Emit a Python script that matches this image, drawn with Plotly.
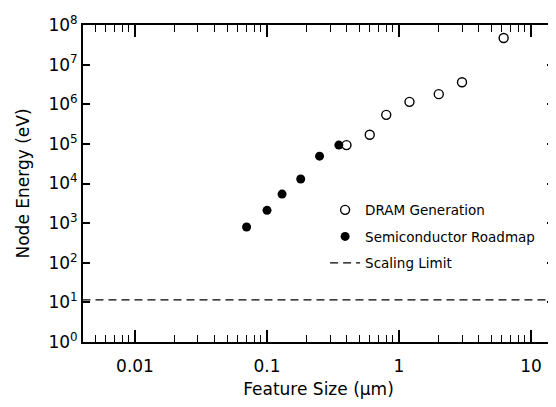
import plotly.graph_objects as go

# Data
dram_x = [0.4, 0.6, 0.8, 1.2, 2.0, 3.0, 6.2]
dram_y = [9.3e4, 1.7e5, 5.4e5, 1.15e6, 1.8e6, 3.6e6, 4.7e7]
road_x = [0.07, 0.10, 0.13, 0.18, 0.25, 0.35]
road_y = [8.0e2, 2.1e3, 5.4e3, 1.3e4, 4.9e4, 9.3e4]
limit_x = [0.004, 15]
limit_y = [11.5, 11.5]

x_tick_vals = [0.01, 0.1, 1, 10]
x_tick_text = ["0.01", "0.1", "1", "10"]
y_tick_vals = [1, 10, 1e2, 1e3, 1e4, 1e5, 1e6, 1e7, 1e8]
y_tick_text = ["10<sup>%d</sup>" % i for i in range(9)]

FONT = "DejaVu Sans"
XRANGE = [-2.394, 1.174]

fig = go.Figure()
fig.add_trace(go.Scatter(
    x=dram_x, y=dram_y, mode="markers", name="DRAM Generation",
    legendgroup="a",
    marker=dict(symbol="circle-open", size=9, color="black", line=dict(width=1.4, color="black")),
))
fig.add_trace(go.Scatter(
    x=road_x, y=road_y, mode="markers", name="Semiconductor Roadmap",
    legendgroup="b",
    marker=dict(symbol="circle", size=9, color="black"),
))
fig.add_trace(go.Scatter(
    x=limit_x, y=limit_y, mode="lines", name="Scaling Limit",
    legendgroup="c",
    line=dict(color="black", width=1.3, dash="8px,5px"),
))

fig.update_layout(
    width=548, height=399,
    margin=dict(l=75, r=2, t=17, b=65),
    paper_bgcolor="white", plot_bgcolor="white",
    font=dict(family=FONT, color="black", size=16),
    showlegend=True,
    legend=dict(
        x=0.514, y=0.465, xanchor="left", yanchor="top",
        bgcolor="rgba(0,0,0,0)", font=dict(size=13.5, family=FONT),
        tracegroupgap=6,
    ),
)
fig.layout.xaxis.update(
    type="log", range=XRANGE,
    tickmode="array", tickvals=x_tick_vals, ticktext=x_tick_text,
    ticks="inside", ticklen=12, tickwidth=1.5, tickcolor="black",
    minor=dict(ticks="inside", ticklen=7, tickwidth=1.2, tickcolor="black", dtick="D1", showgrid=False),
    showline=True, linewidth=2, linecolor="black", mirror="allticks",
    showgrid=False, zeroline=False, automargin=False,
    tickfont=dict(size=17), ticklabelstandoff=8,
    title=dict(text="Feature Size (µm)", font=dict(size=17), standoff=8),
)
fig.layout.yaxis.update(
    type="log", range=[0, 8],
    tickmode="array", tickvals=y_tick_vals, ticktext=y_tick_text,
    ticks="inside", ticklen=7, tickwidth=1.5, tickcolor="black",
    showline=True, linewidth=2, linecolor="black", mirror="allticks",
    showgrid=False, zeroline=False, automargin=False,
    tickfont=dict(size=17),
    title=dict(text="Node Energy (eV)", font=dict(size=17), standoff=14),
)

fig.write_html("out.html")
